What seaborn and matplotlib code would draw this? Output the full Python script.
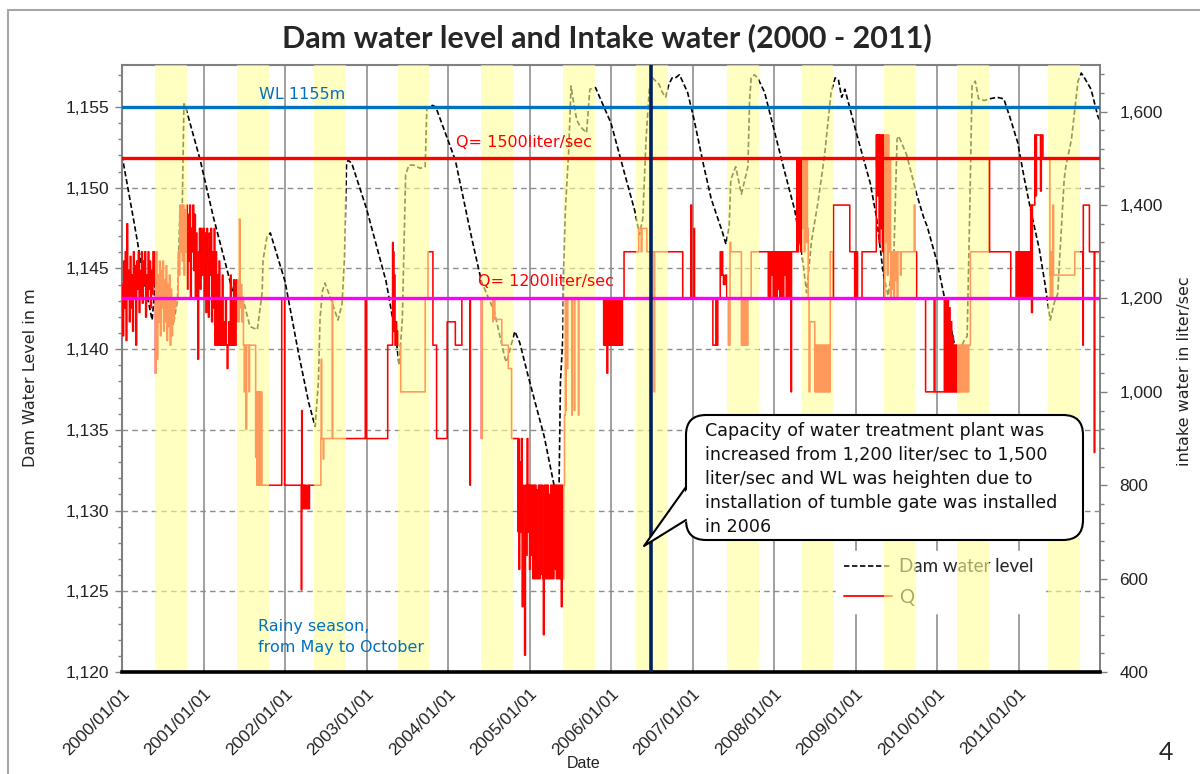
import numpy as np
import pandas as pd
import matplotlib
matplotlib.use("Agg")
import matplotlib.pyplot as plt
import matplotlib.transforms as mtransforms
from matplotlib.patches import FancyBboxPatch, Polygon
from matplotlib.lines import Line2D
from matplotlib.ticker import MultipleLocator, FuncFormatter
import seaborn as sns

# ---------------- data ----------------
year_ticks = list(range(2000, 2012))
tick_labels = [f"{y}/01/01" for y in year_ticks]

# rainy season bands (decimal years)
rain_start = [2000.405, 2001.411, 2002.356, 2003.387, 2004.405, 2005.411,
              2006.307, 2007.423, 2008.344, 2009.350, 2010.250, 2011.360]
rain_end = [2000.798, 2001.804, 2002.748, 2003.767, 2004.797, 2005.804,
            2006.699, 2007.816, 2008.724, 2009.740, 2010.640, 2011.750]

capacity_change = 2006.49

wl_ref = 1155
q_ref_high = 1500
q_ref_low = 1200

# Dam water level (m)
wl_year = [2000.00, 2000.15, 2000.28, 2000.37, 2000.41, 2000.47, 2000.55, 2000.63, 2000.68, 2000.71, 2000.74, 2000.76, 2000.78,
           2000.96, 2001.12, 2001.28, 2001.36, 2001.45, 2001.57, 2001.66, 2001.72, 2001.73, 2001.78, 2001.82,
           2002.00, 2002.16, 2002.29, 2002.37, 2002.41, 2002.43, 2002.46, 2002.49, 2002.57, 2002.65, 2002.70, 2002.73, 2002.755, 2002.775,
           2002.82, 2003.00, 2003.24, 2003.36, 2003.40, 2003.44, 2003.48, 2003.52, 2003.58, 2003.66, 2003.72, 2003.74, 2003.81,
           2003.85, 2004.09, 2004.29, 2004.41, 2004.57, 2004.70, 2004.72, 2004.82, 2004.88, 2004.98, 2005.18, 2005.30, 2005.36,
           2005.38, 2005.41, 2005.42, 2005.44, 2005.48, 2005.51, 2005.54, 2005.58, 2005.62, 2005.70, 2005.73, 2005.74, 2005.81,
           2006.00, 2006.16, 2006.29, 2006.35, 2006.39, 2006.43, 2006.47, 2006.51, 2006.59, 2006.63, 2006.67, 2006.71, 2006.75, 2006.79, 2006.84,
           2006.94, 2007.02, 2007.14, 2007.23, 2007.31, 2007.37, 2007.41, 2007.45, 2007.47, 2007.53, 2007.60, 2007.68, 2007.70, 2007.72, 2007.76, 2007.80,
           2007.885, 2008.01, 2008.13, 2008.255, 2008.335, 2008.40, 2008.46, 2008.54, 2008.62, 2008.70, 2008.75, 2008.79, 2008.83, 2008.87,
           2009.01, 2009.18, 2009.26, 2009.34, 2009.40, 2009.47, 2009.51, 2009.53, 2009.63, 2009.75, 2009.84, 2009.88, 2010.00, 2010.10,
           2010.21, 2010.27, 2010.33, 2010.37, 2010.40, 2010.43, 2010.47, 2010.51, 2010.58, 2010.64, 2010.74, 2010.82,
           2010.905, 2010.99, 2011.07, 2011.15, 2011.255, 2011.32, 2011.39, 2011.44, 2011.48, 2011.52, 2011.56, 2011.58, 2011.65,
           2011.73, 2011.77, 2011.81, 2011.89, 2011.975, 2011.996]
wl_level = [1152.0, 1147.8, 1144.0, 1141.8, 1144.3, 1144.7, 1143.5, 1141.5, 1143.0, 1148.6, 1149.0, 1155.2, 1155.0,
            1151.7, 1148.2, 1145.1, 1143.5, 1143.8, 1141.4, 1141.2, 1143.5, 1145.5, 1147.0, 1147.2,
            1144.2, 1139.9, 1136.7, 1135.2, 1138.0, 1141.9, 1143.6, 1144.1, 1143.0, 1141.8, 1142.8, 1145.7, 1151.5, 1151.7,
            1151.5, 1148.7, 1144.2, 1140.8, 1139.0, 1141.9, 1150.8, 1151.4, 1151.4, 1151.2, 1151.3, 1154.9, 1155.1,
            1155.0, 1151.7, 1146.9, 1144.2, 1142.3, 1139.4, 1139.2, 1141.1, 1140.4, 1138.4, 1134.6, 1131.6, 1130.6,
            1138.0, 1140.8, 1145.1, 1148.6, 1152.2, 1156.3, 1155.3, 1154.2, 1153.8, 1153.4, 1155.4, 1156.1, 1156.2,
            1154.0, 1151.0, 1148.6, 1147.1, 1148.1, 1153.0, 1156.1, 1156.8, 1156.4, 1155.9, 1155.6, 1156.4, 1156.8, 1156.8, 1157.0,
            1155.9, 1154.2, 1151.3, 1149.3, 1148.1, 1147.2, 1146.5, 1147.6, 1150.5, 1151.3, 1149.6, 1151.3, 1155.4, 1156.8, 1157.0, 1156.8,
            1155.9, 1153.4, 1151.0, 1148.6, 1146.2, 1143.5, 1146.7, 1149.1, 1152.0, 1155.9, 1156.8, 1156.7, 1155.6, 1156.1,
            1153.4, 1150.3, 1148.1, 1144.7, 1143.3, 1145.7, 1153.0, 1153.2, 1152.0, 1149.6, 1148.1, 1147.6, 1145.4, 1143.0,
            1140.4, 1139.8, 1140.5, 1140.8, 1148.1, 1156.3, 1156.6, 1155.5, 1155.4, 1155.5, 1155.6, 1155.5,
            1154.2, 1152.8, 1150.6, 1148.6, 1146.2, 1144.2, 1141.8, 1142.9, 1143.4, 1146.9, 1150.5, 1151.3, 1153.0,
            1156.6, 1157.1, 1156.8, 1156.1, 1154.4, 1154.2]

# Intake water Q (liter/sec)
q_year = [2000.00, 2000.01, 2000.02, 2000.03, 2000.04, 2000.05, 2000.06, 2000.07, 2000.08, 2000.09,
          2000.10, 2000.11, 2000.12, 2000.13, 2000.14, 2000.15, 2000.16, 2000.17, 2000.18, 2000.19,
          2000.20, 2000.21, 2000.22, 2000.23, 2000.24, 2000.25, 2000.26, 2000.27, 2000.28, 2000.29,
          2000.30, 2000.31, 2000.32, 2000.33, 2000.34, 2000.35, 2000.36, 2000.37, 2000.38, 2000.39,
          2000.40, 2000.41, 2000.42, 2000.43, 2000.44, 2000.45, 2000.46, 2000.47, 2000.48, 2000.49,
          2000.50, 2000.51, 2000.52, 2000.53, 2000.54, 2000.55, 2000.56, 2000.57, 2000.58, 2000.59,
          2000.60, 2000.61, 2000.62, 2000.63, 2000.64, 2000.65, 2000.66, 2000.69, 2000.70, 2000.71,
          2000.72, 2000.73, 2000.74, 2000.75, 2000.76, 2000.77, 2000.78, 2000.79, 2000.80, 2000.81,
          2000.82, 2000.83, 2000.84, 2000.85, 2000.86, 2000.87, 2000.88, 2000.89, 2000.90, 2000.91,
          2000.92, 2000.93, 2000.94, 2000.95, 2000.96, 2000.97, 2000.98, 2000.99, 2001.00, 2001.01,
          2001.02, 2001.03, 2001.04, 2001.05, 2001.06, 2001.07, 2001.08, 2001.09, 2001.10, 2001.11,
          2001.12, 2001.13, 2001.14, 2001.15, 2001.16, 2001.17, 2001.18, 2001.19, 2001.20, 2001.21,
          2001.22, 2001.23, 2001.24, 2001.25, 2001.26, 2001.27, 2001.28, 2001.29, 2001.30, 2001.31,
          2001.32, 2001.33, 2001.34, 2001.35, 2001.36, 2001.37, 2001.38, 2001.40, 2001.42, 2001.44,
          2001.45, 2001.46, 2001.47, 2001.48, 2001.49, 2001.50, 2001.51, 2001.52, 2001.53, 2001.56,
          2001.565, 2001.64, 2001.65, 2001.655, 2001.66, 2001.665, 2001.67, 2001.675, 2001.68, 2001.685,
          2001.69, 2001.695, 2001.70, 2001.705, 2001.71, 2001.715, 2001.96, 2001.995, 2002.20, 2002.205,
          2002.21, 2002.22, 2002.23, 2002.24, 2002.25, 2002.26, 2002.28, 2002.29, 2002.30, 2002.44,
          2002.445, 2002.45, 2002.47, 2002.475, 2002.58, 2002.585, 2002.985, 2002.995, 2003.26, 2003.32,
          2003.325, 2003.33, 2003.335, 2003.34, 2003.35, 2003.36, 2003.37, 2003.38, 2003.39, 2003.42,
          2003.72, 2003.755, 2003.815, 2003.86, 2003.99, 2004.09, 2004.17, 2004.27, 2004.275, 2004.41,
          2004.42, 2004.55, 2004.555, 2004.575, 2004.66, 2004.74, 2004.78, 2004.86, 2004.865, 2004.87,
          2004.88, 2004.89, 2004.90, 2004.91, 2004.92, 2004.93, 2004.94, 2004.95, 2004.96, 2004.97,
          2004.98, 2004.99, 2005.00, 2005.01, 2005.02, 2005.03, 2005.04, 2005.05, 2005.06, 2005.07,
          2005.08, 2005.09, 2005.10, 2005.11, 2005.12, 2005.13, 2005.14, 2005.15, 2005.16, 2005.17,
          2005.18, 2005.19, 2005.20, 2005.21, 2005.22, 2005.23, 2005.24, 2005.25, 2005.26, 2005.27,
          2005.28, 2005.29, 2005.30, 2005.31, 2005.32, 2005.33, 2005.34, 2005.35, 2005.36, 2005.37,
          2005.38, 2005.39, 2005.40, 2005.41, 2005.42, 2005.43, 2005.44, 2005.445, 2005.45, 2005.46,
          2005.47, 2005.52, 2005.525, 2005.55, 2005.555, 2005.60, 2005.605, 2005.91, 2005.92, 2005.93,
          2005.94, 2005.95, 2005.96, 2005.97, 2005.98, 2005.99, 2006.00, 2006.01, 2006.02, 2006.03,
          2006.04, 2006.05, 2006.06, 2006.07, 2006.08, 2006.09, 2006.10, 2006.11, 2006.12, 2006.13,
          2006.14, 2006.16, 2006.34, 2006.37, 2006.38, 2006.44, 2006.53, 2006.535, 2006.88, 2006.98,
          2006.99, 2007.02, 2007.025, 2007.25, 2007.29, 2007.295, 2007.31, 2007.34, 2007.35, 2007.36,
          2007.37, 2007.38, 2007.40, 2007.42, 2007.44, 2007.46, 2007.47, 2007.60, 2007.61, 2007.62,
          2007.64, 2007.65, 2007.66, 2007.67, 2007.68, 2007.72, 2007.93, 2007.94, 2007.95, 2007.96,
          2007.97, 2007.98, 2007.99, 2008.00, 2008.01, 2008.02, 2008.03, 2008.04, 2008.05, 2008.06,
          2008.07, 2008.08, 2008.09, 2008.10, 2008.11, 2008.12, 2008.13, 2008.14, 2008.15, 2008.16,
          2008.17, 2008.18, 2008.19, 2008.20, 2008.21, 2008.215, 2008.28, 2008.29, 2008.30, 2008.31,
          2008.32, 2008.33, 2008.34, 2008.35, 2008.36, 2008.37, 2008.38, 2008.39, 2008.40, 2008.41,
          2008.42, 2008.43, 2008.44, 2008.50, 2008.51, 2008.52, 2008.53, 2008.54, 2008.55, 2008.56,
          2008.57, 2008.58, 2008.59, 2008.60, 2008.61, 2008.62, 2008.63, 2008.64, 2008.65, 2008.66,
          2008.67, 2008.68, 2008.69, 2008.72, 2008.73, 2008.93, 2008.99, 2009.00, 2009.005, 2009.01,
          2009.015, 2009.02, 2009.025, 2009.08, 2009.255, 2009.26, 2009.265, 2009.27, 2009.275, 2009.28,
          2009.285, 2009.29, 2009.30, 2009.31, 2009.32, 2009.33, 2009.34, 2009.35, 2009.36, 2009.37,
          2009.38, 2009.39, 2009.40, 2009.41, 2009.42, 2009.43, 2009.44, 2009.45, 2009.46, 2009.47,
          2009.48, 2009.49, 2009.50, 2009.51, 2009.52, 2009.55, 2009.56, 2009.72, 2009.73, 2009.75,
          2009.86, 2009.965, 2009.975, 2010.09, 2010.10, 2010.11, 2010.12, 2010.13, 2010.14, 2010.15,
          2010.16, 2010.17, 2010.18, 2010.19, 2010.20, 2010.21, 2010.22, 2010.23, 2010.24, 2010.25,
          2010.26, 2010.27, 2010.28, 2010.29, 2010.30, 2010.31, 2010.32, 2010.33, 2010.34, 2010.35,
          2010.36, 2010.37, 2010.38, 2010.39, 2010.41, 2010.64, 2010.645, 2010.905, 2010.97, 2010.98,
          2010.99, 2011.00, 2011.01, 2011.02, 2011.03, 2011.04, 2011.05, 2011.06, 2011.07, 2011.08,
          2011.09, 2011.10, 2011.11, 2011.12, 2011.13, 2011.14, 2011.15, 2011.16, 2011.17, 2011.20,
          2011.21, 2011.22, 2011.27, 2011.28, 2011.30, 2011.385, 2011.39, 2011.40, 2011.41, 2011.42,
          2011.43, 2011.69, 2011.79, 2011.795, 2011.87, 2011.93, 2011.935, 2012.00]
q_flow = [1230, 1120, 1280, 1180, 1300, 1110, 1360, 1200, 1260, 1150,
          1290, 1180, 1250, 1130, 1300, 1200, 1270, 1100, 1280, 1220,
          1300, 1170, 1260, 1200, 1300, 1190, 1280, 1230, 1300, 1160,
          1250, 1200, 1300, 1220, 1280, 1180, 1260, 1210, 1300, 1230,
          1300, 1040, 1300, 1070, 1250, 1150, 1280, 1120, 1260, 1180,
          1280, 1130, 1240, 1150, 1270, 1110, 1230, 1140, 1250, 1100,
          1220, 1120, 1200, 1150, 1200, 1180, 1200, 1300, 1250, 1400,
          1300, 1400, 1280, 1400, 1250, 1390, 1300, 1400, 1220, 1380,
          1280, 1400, 1200, 1350, 1300, 1400, 1260, 1380, 1200, 1340,
          1250, 1070, 1300, 1350, 1220, 1350, 1250, 1340, 1350, 1200,
          1340, 1170, 1350, 1280, 1160, 1340, 1250, 1350, 1150, 1300,
          1180, 1350, 1100, 1300, 1100, 1250, 1100, 1280, 1100, 1200,
          1100, 1250, 1100, 1150, 1100, 1200, 1100, 1050, 1100, 1150,
          1100, 1250, 1100, 1200, 1100, 1240, 1100, 1240, 1150, 1370,
          1180, 1230, 1150, 1200, 1100, 1000, 1100, 920, 1100, 1000,
          1100, 860, 1000, 800, 1000, 820, 1000, 800, 980, 800,
          1000, 800, 950, 800, 1000, 800, 1200, 800, 576, 960,
          800, 750, 800, 750, 800, 750, 800, 750, 800, 900,
          1070, 900, 856, 900, 1200, 900, 1200, 900, 1100, 1320,
          1150, 1300, 1130, 1250, 1100, 1150, 1100, 1130, 1100, 1000,
          1200, 1300, 1100, 900, 1150, 1100, 1200, 800, 1200, 900,
          1200, 1150, 1200, 1155, 1100, 1050, 900, 700, 900, 620,
          850, 700, 900, 540, 800, 700, 436, 800, 650, 900,
          700, 800, 620, 800, 650, 800, 600, 800, 600, 800,
          600, 790, 600, 800, 600, 800, 610, 800, 600, 480,
          800, 600, 800, 600, 800, 600, 780, 600, 800, 600,
          800, 600, 800, 620, 800, 600, 800, 600, 800, 600,
          800, 540, 800, 600, 800, 950, 1200, 960, 1200, 1050,
          1200, 950, 1200, 960, 1200, 950, 1200, 1100, 1200, 1100,
          1200, 1040, 1200, 1100, 1200, 1100, 1200, 1100, 1200, 1100,
          1200, 1100, 1200, 1100, 1200, 1100, 1200, 1100, 1200, 1100,
          1200, 1300, 1350, 1300, 1350, 1300, 1000, 1300, 1200, 1400,
          1200, 1350, 1200, 1100, 1200, 1100, 1200, 1300, 1250, 1300,
          1250, 1230, 1250, 1200, 1100, 1320, 1300, 1100, 1200, 1100,
          1200, 1100, 1200, 1100, 1200, 1300, 1200, 1300, 1200, 1300,
          1250, 1300, 1200, 1300, 1200, 1300, 1200, 1300, 1220, 1300,
          1200, 1300, 1200, 1300, 1200, 1300, 1250, 1300, 1200, 1300,
          1200, 1300, 1200, 1300, 1000, 1300, 1500, 1300, 1500, 1320,
          1500, 1300, 1500, 1350, 1500, 1300, 1500, 1320, 1500, 1350,
          1200, 1000, 1150, 1000, 1100, 1000, 1100, 1000, 1100, 1000,
          1100, 1000, 1100, 1000, 1100, 1000, 1100, 1000, 1100, 1000,
          1100, 1000, 1300, 1200, 1400, 1300, 1200, 1300, 1200, 1300,
          1200, 1300, 1200, 1300, 1550, 1480, 1550, 1420, 1550, 1480,
          1550, 1320, 1550, 1350, 1550, 1300, 1550, 1200, 1550, 1320,
          1550, 1250, 1550, 1300, 1500, 1200, 1300, 1220, 1300, 1200,
          1300, 1240, 1300, 1200, 1300, 1250, 1300, 1400, 1300, 1200,
          1000, 1200, 1000, 1200, 1000, 1200, 1000, 1200, 1000, 1180,
          1000, 1150, 1000, 1120, 1000, 1100, 1000, 1100, 1000, 1100,
          1000, 1100, 1000, 1100, 1000, 1100, 1000, 1100, 1000, 1100,
          1000, 1100, 1000, 1100, 1300, 1500, 1300, 1200, 1300, 1200,
          1300, 1200, 1300, 1200, 1300, 1200, 1300, 1200, 1300, 1200,
          1300, 1200, 1300, 1200, 1300, 1200, 1400, 1170, 1400, 1550,
          1420, 1550, 1430, 1550, 1500, 1250, 1200, 1300, 1200, 1400,
          1250, 1300, 1100, 1400, 1300, 870, 1300, 1300]

# ---------------- figure ----------------
sns.set_theme(style="white")
plt.rcParams['font.family'] = ['DejaVu Sans']

W, H = 1200, 774
fig = plt.figure(figsize=(W / 100, H / 100), dpi=100)
fig.patch.set_facecolor('white')
L, R, T, B = 122, 1100, 65, 672
ax = fig.add_axes([L / W, 1 - B / H, (R - L) / W, (B - T) / H])
ax2 = ax.twinx()
ax3 = ax.twinx()
ax.set_zorder(1)
ax2.set_zorder(2)
ax3.set_zorder(3)
ax.patch.set_facecolor('white')
ax2.patch.set_visible(False)
ax3.patch.set_visible(False)

wl_df = pd.DataFrame({'year': wl_year, 'level': wl_level})
q_df = pd.DataFrame({'year': q_year, 'flow': q_flow})

dash = (0, (3.2, 1.6))
sns.lineplot(data=wl_df, x='year', y='level', ax=ax, color='black', lw=1.2,
             linestyle=dash, estimator=None, sort=False)
sns.lineplot(data=q_df, x='year', y='flow', ax=ax2, color='#FF0000', lw=1.15,
             drawstyle='steps-post', estimator=None, sort=False)

lev_lim = (1120, 1157.6)
q_lim = (400, 1700)
ax.set_xlim(2000, 2012)
ax.set_ylim(*lev_lim)
ax2.set_ylim(*q_lim)

# grid
ax.set_xticks(year_ticks)
ax.yaxis.set_major_locator(MultipleLocator(5))
ax.yaxis.set_minor_locator(MultipleLocator(1))
ax.yaxis.grid(True, which='major', color='#8c8c8c', linestyle=(0, (4, 3)), lw=1.0)
ax.xaxis.grid(True, which='major', color='#a0a0a0', lw=1.4)
ax.set_axisbelow(True)

fmt = FuncFormatter(lambda v, p: f"{v:,.0f}")
ax.yaxis.set_major_formatter(fmt)
ax.tick_params(axis='y', which='major', direction='out', length=5, width=1, color='#808080',
               left=True, labelsize=12.5, labelfontfamily='Liberation Sans', pad=4, labelcolor='#222222')
ax.tick_params(axis='y', which='minor', direction='out', length=3, width=1, color='#808080', left=True)
ax.set_xticklabels(tick_labels, rotation=45, ha='right', rotation_mode='anchor',
                   fontsize=12.5, family='Liberation Sans', color='#222222')
ax.tick_params(axis='x', length=0, pad=10)

ax2.yaxis.set_major_locator(MultipleLocator(200))
ax2.yaxis.set_minor_locator(MultipleLocator(40))
ax2.yaxis.set_major_formatter(fmt)
ax2.tick_params(axis='y', which='major', direction='out', length=5, width=1, color='#808080',
                right=True, labelsize=12.5, labelfontfamily='Liberation Sans', pad=9, labelcolor='#222222')
ax2.tick_params(axis='y', which='minor', direction='out', length=3, width=1, color='#808080', right=True)

for a in (ax, ax2, ax3):
    a.set_xlabel('')
    a.set_ylabel('')

for s in ('right', 'bottom'):
    ax.spines[s].set_visible(False)
for s in ('left', 'top'):
    ax.spines[s].set_color('#808080')
    ax.spines[s].set_linewidth(1.5)
for s in ('left', 'top', 'bottom'):
    ax2.spines[s].set_visible(False)
ax2.spines['right'].set_color('#808080')
ax2.spines['right'].set_linewidth(1.4)
for s in ('left', 'top', 'right'):
    ax3.spines[s].set_visible(False)
ax3.spines['bottom'].set_color('black')
ax3.spines['bottom'].set_linewidth(2.6)
ax3.set_yticks([])
ax3.tick_params(axis='both', length=0, labelright=False, labelbottom=False)

# legend (below the rainy-season bands)
h_wl = Line2D([], [], color='black', lw=1.2, linestyle=dash)
h_q = Line2D([], [], color='#FF0000', lw=1.3)
leg = ax2.legend([h_wl, h_q], ['Dam water level', 'Q'], loc='upper left',
                 bbox_to_anchor=(836 / W, 1 - 551 / H), bbox_transform=fig.transFigure,
                 frameon=True, fancybox=False, framealpha=1, facecolor='white', edgecolor='white',
                 prop={'family': 'Lato', 'size': 13.5}, handlelength=2.6, handletextpad=0.35,
                 labelspacing=0.7, borderpad=0.4, borderaxespad=0)

# rainy season bands
for s, e in zip(rain_start, rain_end):
    ax3.axvspan(s, e, facecolor='#FFFF99', alpha=0.6, lw=0, zorder=1)

# reference lines
ax3.set_ylim(*lev_lim)
ax3.axhline(wl_ref, color='#0070C0', lw=2.4, zorder=3)
qtrans = mtransforms.blended_transform_factory(ax3.transAxes, ax2.transData)
ax3.plot([0, 1], [q_ref_high, q_ref_high], transform=qtrans, color='#FF0000', lw=2.4, zorder=3)
ax3.plot([0, 1], [q_ref_low, q_ref_low], transform=qtrans, color='#FF00FF', lw=2.4, zorder=3)
ax3.axvline(capacity_change, color='#002060', lw=2.6, zorder=3)
ax3.set_xlim(2000, 2012)
ax3.set_ylim(*lev_lim)

txt_kw = dict(fontsize=11.5, va='center', ha='left', zorder=4)
ax3.text(2001.68, 1155.75, 'WL 1155m', color='#0070C0', **txt_kw)
qtext = mtransforms.blended_transform_factory(ax3.transData, ax2.transData)
ax3.text(2004.10, 1533, 'Q= 1500liter/sec', color='#FF0000', transform=qtext, **txt_kw)
ax3.text(2004.37, 1237, 'Q= 1200liter/sec', color='#FF0000', transform=qtext, **txt_kw)
ax3.text(2001.67, 1122.8, 'Rainy season,', color='#0070C0', **txt_kw)
ax3.text(2001.67, 1121.5, 'from May to October', color='#0070C0', **txt_kw)

# callout
tr = fig.dpi_scale_trans
def inch(x, y):
    return (x / 100, (H - y) / 100)

bx0, by0 = inch(686, 540)
box = FancyBboxPatch((bx0, by0), (1083 - 686) / 100, (540 - 415) / 100,
                     boxstyle="round,pad=0,rounding_size=0.2", transform=tr,
                     facecolor='white', edgecolor='black', lw=1.5, zorder=20)
fig.add_artist(box)
ptr = Polygon([inch(689, 487), inch(644, 546), inch(689, 520)], closed=True, transform=tr,
              facecolor='white', edgecolor='none', zorder=21)
fig.add_artist(ptr)
px_, py_ = zip(inch(686, 487), inch(644, 546), inch(686, 520))
fig.add_artist(Line2D(px_, py_, transform=tr, color='black', lw=1.5, zorder=22))
call_lines = ['Capacity of water treatment plant was',
              'increased from 1,200 liter/sec to 1,500',
              'liter/sec and WL was heighten due to',
              'installation of tumble gate was installed',
              'in 2006']
for i, t in enumerate(call_lines):
    fig.text(705 / W, 1 - (431 + 24 * i) / H, t, fontsize=12.6, va='center', ha='left',
             color='#111111', zorder=23)

# titles and labels
fig.text(607 / W, 1 - 38 / H, 'Dam water level and Intake water (2000 - 2011)',
         ha='center', va='center', fontsize=22, fontweight='bold', family='Lato')
fig.text(31 / W, 1 - 378 / H, 'Dam Water Level in m', rotation=90, ha='center', va='center',
         fontsize=11.5, color='#222222')
fig.text(1185 / W, 1 - 371 / H, 'intake water in liter/sec', rotation=90, ha='center', va='center',
         fontsize=11.5, color='#222222')
fig.text(584 / W, 1 - 763 / H, 'Date', ha='center', va='center', fontsize=11.5,
         family='Liberation Sans', color='#222222')
fig.text(1166 / W, 1 - 752 / H, '4', ha='center', va='center', fontsize=18, family='Lato')

# slide frame lines
fig.add_artist(Line2D([8 / W, 8 / W], [0, 1 - 10 / H], color='#a6a6a6', lw=1.5))
fig.add_artist(Line2D([8 / W, 1], [1 - 10 / H, 1 - 10 / H], color='#a6a6a6', lw=1.5))

fig.savefig('out.png', dpi=100, facecolor='white')
